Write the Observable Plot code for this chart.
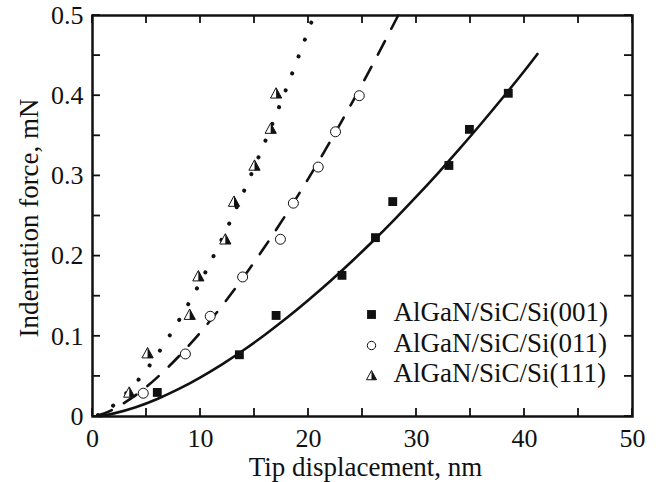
<!DOCTYPE html>
<html>
<head>
<meta charset="utf-8">
<script src="https://cdn.jsdelivr.net/npm/d3@7"></script>
<script src="https://cdn.jsdelivr.net/npm/@observablehq/plot@0.6"></script>
<style>
  html, body { margin: 0; padding: 0; background: #fff; }
  #chart { width: 660px; height: 482px; }
  #chart svg text { font-family: "Liberation Serif", "Times New Roman", serif !important; }
</style>
</head>
<body>
<div id="chart"></div>
<script>
// ---- axis domains and ticks ----
const xDomain = [0, 50];
const yDomain = [0, 0.5];
const xTickLabels = [0, 10, 20, 30, 40, 50];
const xTickMarks = [0, 5, 10, 15, 20, 25, 30, 35, 40, 45, 50];
const yTickLabels = [0, 0.1, 0.2, 0.3, 0.4, 0.5];
const yTickMarks = [0, 0.05, 0.1, 0.15, 0.2, 0.25, 0.3, 0.35, 0.4, 0.45, 0.5];

// ---- series names ----
const seriesNames = ["AlGaN/SiC/Si(001)", "AlGaN/SiC/Si(011)", "AlGaN/SiC/Si(111)"];

// ---- measured points ----
const s001X = [6.0, 13.6, 17.0, 23.1, 26.2, 27.8, 33.0, 34.9, 38.5];
const s001Y = [0.030, 0.077, 0.126, 0.176, 0.223, 0.268, 0.313, 0.358, 0.403];
const s011X = [4.7, 8.6, 10.9, 13.9, 17.4, 18.6, 20.9, 22.5, 24.7];
const s011Y = [0.029, 0.078, 0.125, 0.174, 0.221, 0.266, 0.311, 0.355, 0.400];
const s111X = [3.4, 5.1, 9.0, 9.8, 12.3, 13.1, 15.0, 16.5, 17.0];
const s111Y = [0.030, 0.079, 0.127, 0.175, 0.221, 0.268, 0.313, 0.359, 0.403];

// ---- fitted curves ----
const fit001X = [0.7, 2, 4, 6, 8, 10, 12, 14, 16, 18, 20, 22, 24, 26, 28, 30, 32, 34, 36, 38, 40, 41.2];
const fit001Y = [0.0005, 0.0039, 0.0116, 0.0219, 0.0344, 0.0489, 0.0651, 0.0829, 0.1023, 0.1230, 0.1452, 0.1686, 0.1933, 0.2191, 0.2462, 0.2744, 0.3036, 0.3339, 0.3653, 0.3977, 0.4311, 0.452];
const fit011X = [0.5, 1, 2, 4, 6, 8, 10, 12, 14, 16, 18, 20, 22, 24, 26, 28.3];
const fit011Y = [0.0012, 0.0033, 0.0094, 0.0266, 0.0488, 0.0751, 0.1050, 0.1381, 0.1740, 0.2125, 0.2536, 0.2970, 0.3427, 0.3905, 0.4403, 0.5];
const fit111X = [0.5, 1, 2, 4, 6, 8, 10, 12, 14, 16, 18, 20.5];
const fit111Y = [0.0018, 0.0051, 0.0146, 0.0418, 0.0773, 0.1198, 0.1681, 0.2218, 0.2804, 0.3435, 0.4107, 0.5];

const zip = (xs, ys) => xs.map((x, i) => ({x, y: ys[i]}));
const pts001 = zip(s001X, s001Y), pts011 = zip(s011X, s011Y), pts111 = zip(s111X, s111Y);
const crv001 = zip(fit001X, fit001Y), crv011 = zip(fit011X, fit011Y), crv111 = zip(fit111X, fit111Y);

// custom symbols: triangle outline and its right half
const triOutline = {draw(ctx, size) {
  const r = Math.sqrt(size / Math.PI);
  ctx.moveTo(0, -r); ctx.lineTo(r, 0.85 * r); ctx.lineTo(-r, 0.85 * r); ctx.closePath();
}};
const triHalf = {draw(ctx, size) {
  const r = Math.sqrt(size / Math.PI);
  ctx.moveTo(0, -r); ctx.lineTo(r, 0.85 * r); ctx.lineTo(0, 0.85 * r); ctx.closePath();
}};

const FONT = "Liberation Serif, Times New Roman, serif";
const W = 660, H = 482, ML = 92, MR = 28, MT = 15, MB = 66;
const TICK = 8;

const legendMarks = [];
const legendDy = [-102, -71, -41];
const legendSymbols = [
  [{symbol: "square", r: 5.0, fill: "#111"}],
  [{symbol: "circle", r: 4.2, fill: "white", stroke: "#111", strokeWidth: 1}],
  [{symbol: triOutline, r: 5.0, fill: "white", stroke: "#111", strokeWidth: 1},
   {symbol: triHalf, r: 5.0, fill: "#111"}]
];
seriesNames.forEach((name, i) => {
  legendSymbols[i].forEach(opts => {
    legendMarks.push(Plot.dot([name], {frameAnchor: "bottom-right", dx: -261, dy: legendDy[i], ...opts}));
  });
  legendMarks.push(Plot.text([name], {frameAnchor: "bottom-right", dx: -239, dy: legendDy[i] - 2.6,
    text: d => d, textAnchor: "start", lineAnchor: "middle", fontSize: 27, fontFamily: FONT, fill: "#111"}));
});

const chart = Plot.plot({
  width: W,
  height: H,
  marginLeft: ML,
  marginRight: MR,
  marginTop: MT,
  marginBottom: MB,
  style: {fontFamily: FONT, fontSize: "26px", color: "#111", background: "white"},
  x: {domain: xDomain},
  y: {domain: yDomain},
  marks: [
    // tick labels
    Plot.axisX({anchor: "bottom", ticks: xTickLabels, tickSize: 0, tickPadding: 12, label: null, fontSize: 26, fontFamily: FONT,
      tickFormat: d => String(d)}),
    Plot.axisY({anchor: "left", ticks: yTickLabels, tickSize: 0, tickPadding: 9, label: null, fontSize: 26, fontFamily: FONT,
      tickFormat: d => d === 0 ? "0" : d.toFixed(1)}),
    // titles
    Plot.text(["Tip displacement, nm"], {frameAnchor: "bottom", dx: 3, dy: 51, textAnchor: "middle", lineAnchor: "middle",
      text: d => d, fontSize: 27, fontFamily: FONT, fill: "#111"}),
    Plot.text(["Indentation force, mN"], {frameAnchor: "left", dx: -63, dy: 2, rotate: -90, textAnchor: "middle", lineAnchor: "middle",
      text: d => d, fontSize: 27, fontFamily: FONT, fill: "#111"}),
    // fitted curves
    Plot.line(crv001, {x: "x", y: "y", curve: "natural", stroke: "#111", strokeWidth: 2.6}),
    Plot.line(crv011, {x: "x", y: "y", curve: "natural", stroke: "#111", strokeWidth: 2.6, strokeDasharray: "15,14"}),
    Plot.line(crv111, {x: "x", y: "y", curve: "natural", stroke: "#111", strokeWidth: 4, strokeDasharray: "0.1,18", strokeLinecap: "round"}),
    // data points
    Plot.dot(pts001, {x: "x", y: "y", symbol: "square", r: 5.0, fill: "#111"}),
    Plot.dot(pts011, {x: "x", y: "y", symbol: "circle", r: 5.0, fill: "white", stroke: "#111", strokeWidth: 1}),
    Plot.dot(pts111, {x: "x", y: "y", symbol: triOutline, r: 5.6, fill: "white", stroke: "#111", strokeWidth: 1}),
    Plot.dot(pts111, {x: "x", y: "y", symbol: triHalf, r: 5.6, fill: "#111"}),
    ...legendMarks,
    Plot.frame({stroke: "#111", strokeWidth: 2.5})
  ]
});
document.getElementById("chart").appendChild(chart);

// inward ticks on all four sides, positioned through the chart's own scales
const sx = chart.scale("x"), sy = chart.scale("y");
const svg = d3.select(chart.tagName.toLowerCase() === "svg" ? chart : chart.querySelector("svg"));
const g = svg.append("g").attr("stroke", "#111").attr("stroke-width", 1.8).attr("fill", "none");
const xL = sx.apply(xDomain[0]), xR = sx.apply(xDomain[1]);
const yB = sy.apply(yDomain[0]), yT = sy.apply(yDomain[1]);
xTickMarks.forEach(v => {
  const px = sx.apply(v);
  g.append("line").attr("x1", px).attr("x2", px).attr("y1", yB).attr("y2", yB - TICK);
  g.append("line").attr("x1", px).attr("x2", px).attr("y1", yT).attr("y2", yT + TICK);
});
yTickMarks.forEach(v => {
  const py = sy.apply(v);
  g.append("line").attr("y1", py).attr("y2", py).attr("x1", xL).attr("x2", xL + TICK);
  g.append("line").attr("y1", py).attr("y2", py).attr("x1", xR).attr("x2", xR - TICK);
});
</script>
</body>
</html>
